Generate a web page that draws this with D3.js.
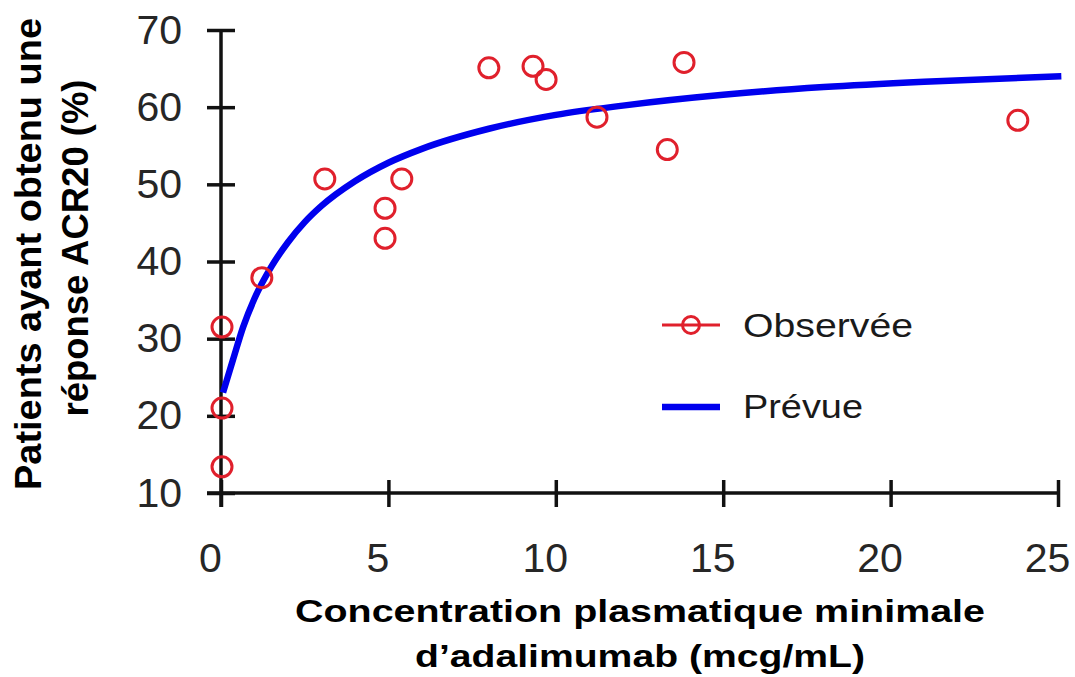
<!DOCTYPE html>
<html>
<head>
  <meta charset="utf-8">
  <title>ACR20 vs adalimumab</title>
  <script src="https://d3js.org/d3.v7.min.js"></script>
  <style>
    body { margin: 0; background: #fff; }
    text { font-family: "Liberation Sans", Arial, sans-serif; }
  </style>
</head>
<body>

  <svg width="1075" height="677"></svg>

  <script>

    // Observed points (concentration, % ACR20)
    const obsConc = [0.03, 0.03, 0.03, 1.22, 3.1, 4.9, 4.9, 5.4, 8.0, 9.32, 9.71, 11.23, 13.33, 13.83, 23.8];
    const obsResp = [31.5, 21.0, 13.4, 37.9, 50.7, 46.9, 43.0, 50.7, 65.1, 65.3, 63.6, 58.7, 54.5, 65.8, 58.3];

    // Predicted curve
    const predConc = [0.06, 0.36, 0.66, 1.0, 1.5, 2.0, 2.5, 3.0, 4.0, 5.0, 6.0, 8.0, 10, 12, 15, 18, 21, 25.1];
    const predResp = [23.0, 27.3, 31.5, 35.2, 39.3, 42.5, 45.1, 47.2, 50.4, 52.8, 54.6, 57.2, 59.0, 60.2, 61.6, 62.6, 63.3, 64.0];

    const xTicks = [0, 5, 10, 15, 20, 25];
    const yTicks = [10, 20, 30, 40, 50, 60, 70];

    const legendLabels = ["Observée", "Prévue"];

    const red = "#e0202c";
    const blue = "#0000ee";

    const svg = d3.select("svg");

    const x = d3.scaleLinear().domain([0, 25]).range([221, 1058]);
    const y = d3.scaleLinear().domain([10, 70]).range([493, 30]);

    // axes, ticks crossing the line
    const gx = svg.append("g")
      .attr("transform", `translate(0,${y(10)})`)
      .call(d3.axisBottom(x).tickValues(xTicks).tickSize(0).tickPadding(50).tickFormat(d3.format("d")));
    gx.select(".domain").remove();
    gx.insert("line", ":first-child")
      .attr("x1", x(0) - 14).attr("x2", x(25))
      .attr("stroke", "#111").attr("stroke-width", 3.5);
    gx.selectAll(".tick line")
      .attr("y1", -13).attr("y2", 14)
      .attr("stroke", "#111").attr("stroke-width", 3.5);
    gx.selectAll(".tick text")
      .attr("dx", -11)
      .attr("fill", "#262626")
      .style("font-size", "41px")
      .style("font-family", "'Liberation Sans', Arial, sans-serif");

    const gy = svg.append("g")
      .attr("transform", `translate(${x(0)},0)`)
      .call(d3.axisLeft(y).tickValues(yTicks).tickSize(0).tickPadding(39).tickFormat(d3.format("d")));
    gy.select(".domain").remove();
    gy.insert("line", ":first-child")
      .attr("y1", y(70)).attr("y2", y(10) + 14)
      .attr("stroke", "#111").attr("stroke-width", 3.5);
    gy.selectAll(".tick line")
      .attr("x1", -14).attr("x2", 14)
      .attr("stroke", "#111").attr("stroke-width", 3.5);
    gy.selectAll(".tick text")
      .attr("fill", "#262626")
      .style("font-size", "41px")
      .style("font-family", "'Liberation Sans', Arial, sans-serif");

    // predicted curve
    const line = d3.line()
      .x(i => x(predConc[i]))
      .y(i => y(predResp[i]))
      .curve(d3.curveMonotoneX);

    svg.append("path")
      .attr("d", line(d3.range(predConc.length)))
      .attr("fill", "none")
      .attr("stroke", blue)
      .attr("stroke-width", 6.5);

    // observed circles
    svg.selectAll(".obs")
      .data(d3.range(obsConc.length))
      .enter().append("circle")
        .attr("class", "obs")
        .attr("cx", i => x(obsConc[i]))
        .attr("cy", i => y(obsResp[i]))
        .attr("r", 10)
        .attr("fill", "none")
        .attr("stroke", red)
        .attr("stroke-width", 3);

    // legend
    const lg = svg.append("g");
    lg.append("line")
      .attr("x1", 662).attr("x2", 720).attr("y1", 325).attr("y2", 325)
      .attr("stroke", red).attr("stroke-width", 3);
    lg.append("circle")
      .attr("cx", 691).attr("cy", 325).attr("r", 8.5)
      .attr("fill", "none").attr("stroke", red).attr("stroke-width", 3);
    lg.append("line")
      .attr("x1", 662).attr("x2", 720).attr("y1", 407).attr("y2", 407)
      .attr("stroke", blue).attr("stroke-width", 6.5);

    lg.selectAll(".leg")
      .data(legendLabels)
      .enter().append("text")
        .attr("x", 743)
        .attr("y", (d, i) => 337 + i * 81)
        .attr("textLength", (d, i) => i === 0 ? 170 : 120)
        .attr("lengthAdjust", "spacingAndGlyphs")
        .attr("fill", "#1a1a1a")
        .style("font-size", "34px")
        .text(d => d);

    // axis titles
    const xTitle = ["Concentration plasmatique minimale", "d\u2019adalimumab (mcg/mL)"];
    svg.selectAll(".xt")
      .data(xTitle)
      .enter().append("text")
        .attr("x", 640)
        .attr("y", (d, i) => 622 + i * 45)
        .attr("text-anchor", "middle")
        .attr("textLength", (d, i) => i === 0 ? 690 : 450)
        .attr("lengthAdjust", "spacingAndGlyphs")
        .style("font-size", "31px")
        .style("font-weight", "bold")
        .attr("fill", "#000")
        .text(d => d);

    const yTitle = ["Patients ayant obtenu une", "réponse ACR20 (%)"];
    svg.selectAll(".yt")
      .data(yTitle)
      .enter().append("text")
        .attr("transform", (d, i) => `translate(${41 + i * 47},${i === 0 ? 254 : 248}) rotate(-90)`)
        .attr("text-anchor", "middle")
        .attr("textLength", (d, i) => i === 0 ? 472 : 337)
        .attr("lengthAdjust", "spacingAndGlyphs")
        .style("font-size", "36px")
        .style("font-weight", "bold")
        .attr("fill", "#000")
        .text(d => d);

  </script>

</body>
</html>
